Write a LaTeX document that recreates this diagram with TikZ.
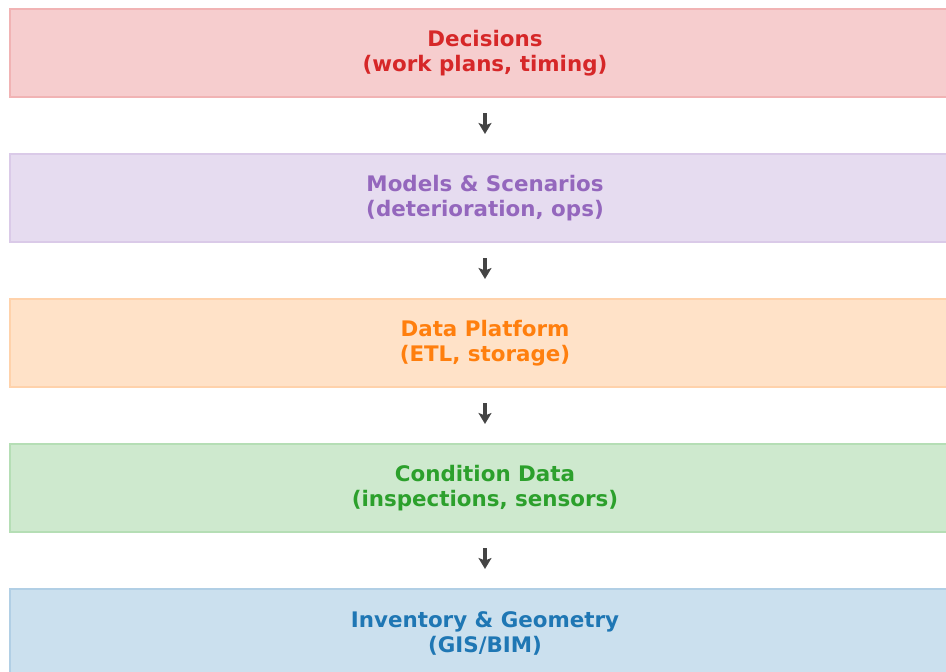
\documentclass[tikz,border=0pt]{standalone}
\usepackage{fontspec}
\setmainfont{DejaVu Sans}
\usepackage{xcolor}
\usepackage{tikz}
\usetikzlibrary{
  arrows.meta,
  positioning
}
\definecolor{decred}{HTML}{D62728}
\definecolor{modpurple}{HTML}{9467BD}
\definecolor{dataorange}{HTML}{FF7F0E}
\definecolor{condgreen}{HTML}{2CA02C}
\definecolor{invblue}{HTML}{1F77B4}
\definecolor{arrowgray}{HTML}{444444}

\tikzset{
  layerbox/.style={draw=#1!35, fill=#1!23, line width=2pt, text=#1,
    minimum width=950pt, minimum height=88pt, inner sep=0pt, align=center,
    font=\fontsize{21.4}{25}\selectfont\bfseries},
  flowarrow/.style={draw=arrowgray, line width=3.6pt,
    -{Stealth[length=11pt,width=13pt,inset=2.5pt]},
    shorten <=15pt, shorten >=19pt}
}

\begin{document}
\begin{tikzpicture}[x=1pt, y=1pt]
  \useasboundingbox (0,0) rectangle (946,-672);
  \clip (0,0) rectangle (946,-672);

  % layers, top to bottom
  \node[layerbox=decred] (decisions) at (485, -53)
    {Decisions\\(work plans, timing)};
  \node[layerbox=modpurple] (models) at (485, -198)
    {Models \& Scenarios\\(deterioration, ops)};
  \node[layerbox=dataorange] (platform) at (485, -343)
    {Data Platform\\(ETL, storage)};
  \node[layerbox=condgreen] (condition) at (485, -488)
    {Condition Data\\(inspections, sensors)};
  \node[layerbox=invblue] (inventory) at (485, -633)
    {Inventory \& Geometry\\(GIS/BIM)};

  % arrows between layers
  \draw[flowarrow] (decisions.south) -- (models.north);
  \draw[flowarrow] (models.south) -- (platform.north);
  \draw[flowarrow] (platform.south) -- (condition.north);
  \draw[flowarrow] (condition.south) -- (inventory.north);

\end{tikzpicture}
\end{document}
